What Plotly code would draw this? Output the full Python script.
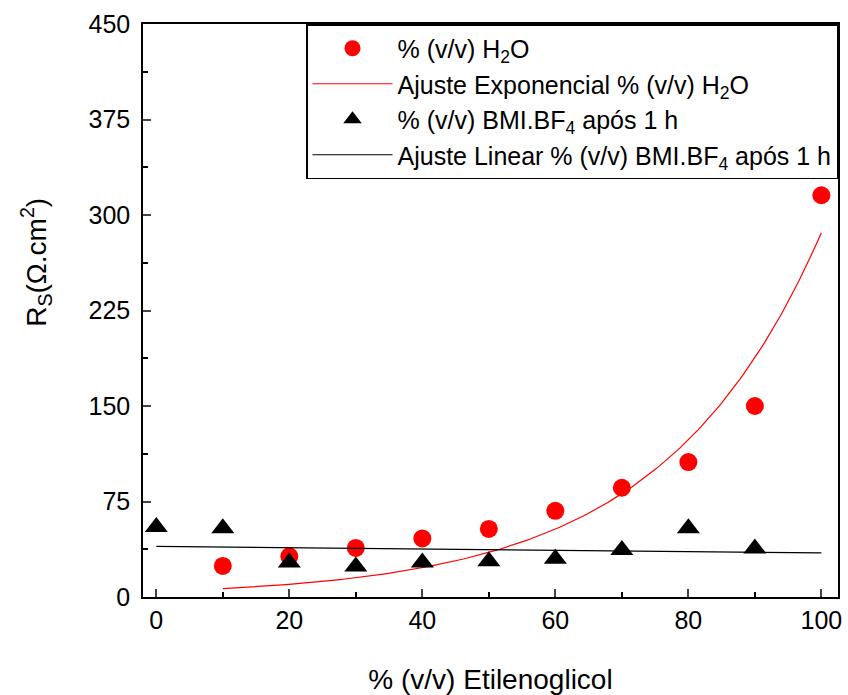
import numpy as np
import plotly.graph_objects as go

# Data
x_h2o = [10, 20, 30, 40, 50, 60, 70, 80, 90, 100]
y_h2o = [24.4, 32, 38.5, 46, 53.5, 67.7, 85.8, 106, 150, 315.5]

x_bmi = [0, 10, 20, 30, 40, 50, 60, 70, 80, 90]
y_bmi = [55, 54, 27, 24, 27, 28, 30, 37, 54, 38]

# Exponential fit parameters (y = A*exp(b*x))
exp_A = 4.29
exp_b = 0.042
exp_x_range = [10, 100]
lin_x_range = [0, 100]

x_ticks = [0, 20, 40, 60, 80, 100]
x_minor = [10, 30, 50, 70, 90]
y_ticks = [0, 75, 150, 225, 300, 375, 450]
y_minor = [37.5, 112.5, 187.5, 262.5, 337.5, 412.5]

# Fit curves
xe = np.linspace(exp_x_range[0], exp_x_range[1], 200)
ye = exp_A * np.exp(exp_b * xe)
slope, intercept = np.polyfit(x_bmi, y_bmi, 1)
xl = np.array(lin_x_range, dtype=float)
yl = intercept + slope * xl

FONT = "Liberation Sans, Arial, sans-serif"

fig = go.Figure()
fig.add_trace(go.Scatter(x=x_h2o, y=y_h2o, mode="markers",
                         marker=dict(symbol="circle", size=18, color="#ff0000"),
                         name="% (v/v) H<sub>2</sub>O"))
fig.add_trace(go.Scatter(x=xe, y=ye, mode="lines",
                         line=dict(color="#ff0000", width=1.2),
                         name="Ajuste Exponencial % (v/v) H<sub>2</sub>O"))
fig.add_trace(go.Scatter(x=x_bmi, y=y_bmi, mode="markers",
                         marker=dict(symbol="triangle-up", size=20, color="#000000"),
                         name="% (v/v) BMI.BF<sub>4</sub> após 1 h"))
fig.add_trace(go.Scatter(x=xl, y=yl, mode="lines",
                         line=dict(color="#000000", width=1.2),
                         name="Ajuste Linear % (v/v) BMI.BF<sub>4</sub> após 1 h"))

fig.update_layout(
    width=848, height=695,
    margin=dict(l=143, r=10, t=24, b=98),
    paper_bgcolor="white", plot_bgcolor="white",
    font=dict(family=FONT, size=24, color="black"),
    legend=dict(x=1, y=1, xanchor="right", yanchor="top",
                bordercolor="black", borderwidth=1.5, bgcolor="white",
                font=dict(size=25, family=FONT), tracegroupgap=0,
                itemwidth=80),
    showlegend=True,
    annotations=[dict(
        text="R<sub>S</sub>(Ω.cm<sup>2</sup>)", textangle=-90,
        xref="paper", yref="paper", x=-0.154, y=0.585,
        xanchor="center", yanchor="middle", showarrow=False,
        font=dict(size=28, family=FONT),
    )],
)
fig.update_xaxes(
    range=[-2, 102.5], tickvals=x_ticks, ticks="inside", ticklen=8, tickwidth=1.5,
    showline=True, linecolor="black", linewidth=1.5, mirror=True,
    showgrid=False, zeroline=False, automargin=False,
    minor=dict(tickvals=x_minor, ticks="inside", ticklen=5, tickwidth=1.5, tickcolor="black"),
    tickfont=dict(size=25), ticklabelstandoff=0,
    title=dict(text="% (v/v) Etilenoglicol", font=dict(size=28), standoff=37),
)
fig.update_yaxes(
    range=[0, 450], tickvals=y_ticks, ticks="inside", ticklen=8, tickwidth=1.5,
    showline=True, linecolor="black", linewidth=1.5, mirror=True,
    showgrid=False, zeroline=False, automargin=False,
    minor=dict(tickvals=y_minor, ticks="inside", ticklen=5, tickwidth=1.5, tickcolor="black"),
    tickfont=dict(size=25), ticklabelstandoff=6,
)

fig.write_html("out.html")
